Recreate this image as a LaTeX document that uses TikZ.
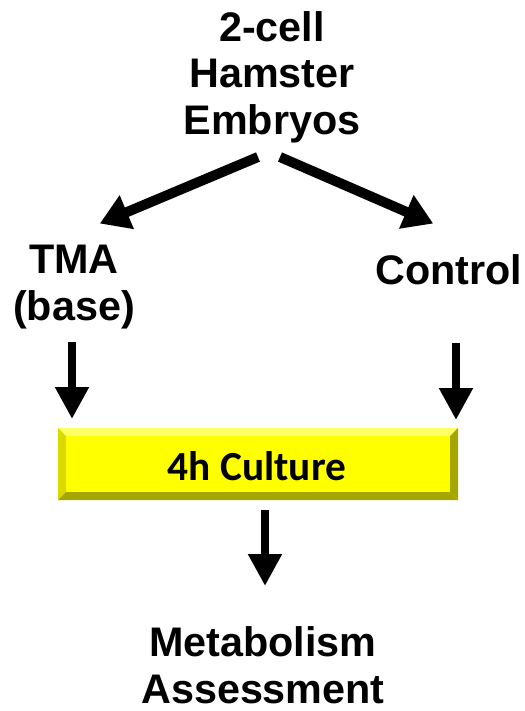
\documentclass[tikz,border=0pt]{standalone}
\usepackage{fontspec}
\setmainfont{Liberation Sans}
\newfontfamily\calibri{Carlito}
\usepackage{xcolor}
\definecolor{cultyellow}{HTML}{FFFF00}
\definecolor{cultlight}{HTML}{FFFF66}
\definecolor{cultdark}{HTML}{A6A600}
\definecolor{cultmid}{HTML}{D9D900}
\usetikzlibrary{arrows.meta,positioning,calc}

\begin{document}
\begin{tikzpicture}[
  x=0.75pt, y=-0.75pt,
  lbl/.style={font=\fontsize{31}{35}\selectfont\bfseries, align=center,
              inner sep=0pt},
  split/.style={-{Triangle[width=26pt, length=22pt]}, line width=7.5pt,
                shorten >=-1pt},
  down/.style={-{Triangle[width=24pt, length=24pt]}, line width=6pt},
]
\useasboundingbox (0,0) rectangle (525,711);

% ================= source and the two treatments
\node[lbl] (emb) at (272,77)  {2-cell\\Hamster\\Embryos};
\node[lbl] (tma) at (74,287)  {TMA\\(base)};
\node[lbl, anchor=base] (ctl) at (449,284) {Control};

\coordinate (sl) at (258,157);
\coordinate (sr) at (280,157);
\coordinate (tl) at (101,223);
\coordinate (tr) at (432,223);
\draw[split] (sl) -- (tl);
\draw[split] (sr) -- (tr);

% ================= culture box, bevelled edges
\coordinate (bnw) at (58,428);
\coordinate (bse) at (458,500);
\fill[cultyellow] (bnw) rectangle (bse);
\fill[cultlight] (58,428) -- (458,428) -- (450,436) -- (66,436) -- cycle;
\fill[cultmid]   (58,428) -- (66,436) -- (66,492) -- (58,500) -- cycle;
\fill[cultdark]  (458,428) -- (458,500) -- (450,492) -- (450,436) -- cycle;
\fill[cultdark]  (58,500) -- (458,500) -- (450,492) -- (66,492) -- cycle;
\node[font=\calibri\fontsize{31}{36}\selectfont\bfseries, inner sep=0pt]
  (cult) at (257,466) {4h Culture};

\coordinate (al) at (72,342);
\coordinate (bl) at (72,419);
\coordinate (ar) at (456,343);
\coordinate (br) at (456,420);
\draw[down] (al) -- (bl);
\draw[down] (ar) -- (br);

% ================= readout
\node[lbl] (met) at (263,665) {Metabolism\\Assessment};
\coordinate (ac) at (265,510);
\coordinate (bc) at (265,586);
\draw[down] (ac) -- (bc);
\end{tikzpicture}
\end{document}
